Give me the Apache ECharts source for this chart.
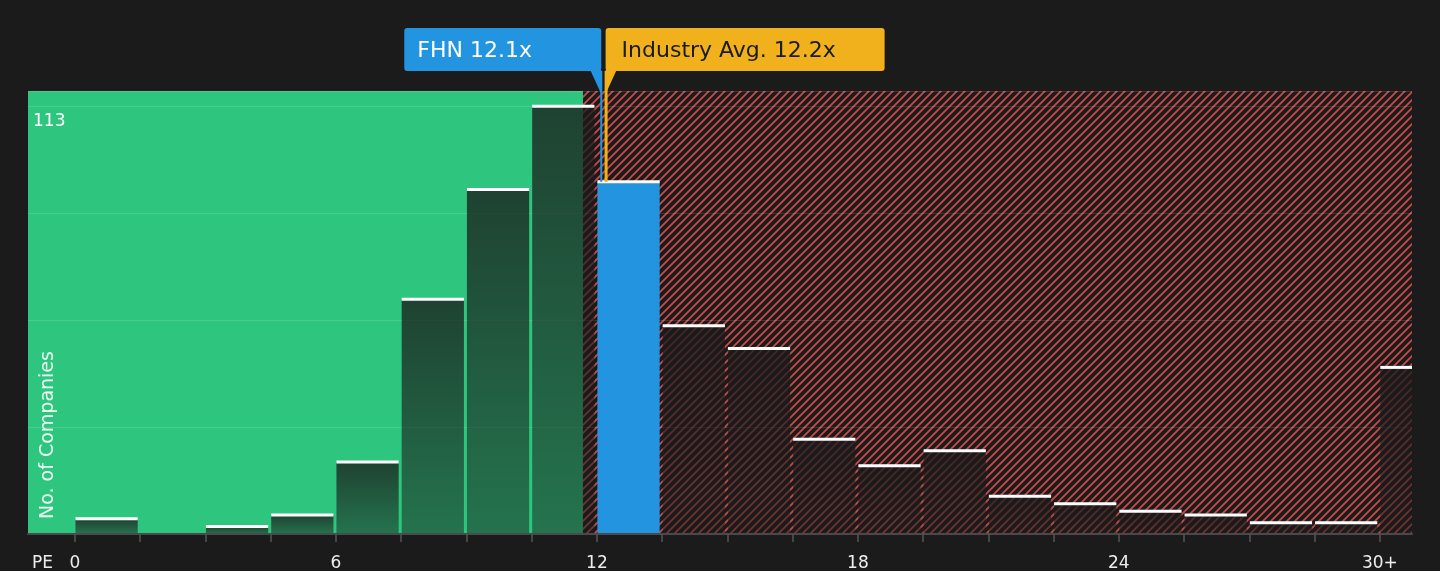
<!DOCTYPE html>
<html>
<head>
<meta charset="utf-8">
<script src="https://cdn.jsdelivr.net/npm/echarts@6/dist/echarts.min.js"></script>
<style>
  html, body { margin: 0; padding: 0; background: #1b1b1b; }
  #chart { width: 1440px; height: 571px; }
</style>
</head>
<body>
<div id="chart"></div>
<script>
// PE histogram data (bin starts, width 1.5, last bin is 30+)
const binStarts = [0, 1.5, 3, 4.5, 6, 7.5, 9, 10.5, 12, 13.5, 15, 16.5, 18, 19.5, 21, 22.5, 24, 25.5, 27, 28.5, 30];
const binCounts = [4, 0, 2, 5, 19, 62, 91, 113, 93, 55, 49, 25, 18, 22, 10, 8, 6, 5, 3, 3, 44];
const binWidth = 1.5;
const tickValues = [0, 1.5, 3, 4.5, 6, 7.5, 9, 10.5, 12, 13.5, 15, 16.5, 18, 19.5, 21, 22.5, 24, 25.5, 27, 28.5, 30];
const labelValues = [0, 6, 12, 18, 24, 30];

const fhnPE = 12.1;
const industryPE = 12.2;
const fairPE = 11.68;   // where the green (undervalued) zone ends
const maxCount = 113;

const xMin = -1.08, xMax = 30.74;
const yMax = 117;

// red hatch tile
function makeHatch() {
    const c = document.createElement('canvas');
    c.width = 8; c.height = 8;
    const g = c.getContext('2d');
    g.fillStyle = '#1b1b1b';
    g.fillRect(0, 0, 8, 8);
    g.strokeStyle = '#c94a4a';
    g.lineWidth = 1.8;
    g.beginPath();
    g.moveTo(-1, 9); g.lineTo(9, -1);
    g.moveTo(-3, 3); g.lineTo(3, -3);
    g.moveTo(5, 11); g.lineTo(11, 5);
    g.stroke();
    return c;
}
const hatch = makeHatch();

const zones = [[xMin, fairPE, 0], [fairPE, xMax, 1]];
const bars = binStarts.map((s, i) => [s, Math.min(s + binWidth, xMax), binCounts[i]]);
const fhnBin = binStarts.findIndex(s => fhnPE >= s && fhnPE < s + binWidth);

const chart = echarts.init(document.getElementById('chart'));
const FONT = 'DejaVu Sans';

function renderZone(params, api) {
    const p0 = api.coord([api.value(0), yMax]);
    const p1 = api.coord([api.value(1), 0]);
    return {
        type: 'rect',
        shape: { x: p0[0], y: p0[1], width: p1[0] - p0[0], height: p1[1] - p0[1] },
        style: { fill: api.value(2) === 0 ? '#2ec67e' : { image: hatch, repeat: 'repeat' } }
    };
}

function renderBar(params, api) {
    const lo = api.value(0), hi = api.value(1), n = api.value(2);
    if (!n) return null;
    const cs = params.coordSys;
    const top = api.coord([lo, n]);
    const base = api.coord([hi, 0]);
    const x0 = top[0] + 0.5;
    const x1 = hi >= xMax ? cs.x + cs.width : base[0] - 2.5;
    const isFhn = params.dataIndex === fhnBin;
    const fill = isFhn ? '#2394df' : {
        type: 'linear', x: 0, y: 0, x2: 0, y2: 1,
        colorStops: [
            { offset: 0, color: 'rgba(26,26,26,0.77)' },
            { offset: 1, color: 'rgba(26,26,26,0.48)' }
        ]
    };
    return {
        type: 'group',
        children: [
            { type: 'rect', shape: { x: x0, y: top[1], width: x1 - x0, height: base[1] - top[1] }, style: { fill: fill } },
            { type: 'rect', shape: { x: x0, y: top[1] - 1.5, width: x1 - x0, height: 3 }, style: { fill: '#ffffff' } }
        ]
    };
}

chart.setOption({
    backgroundColor: '#1b1b1b',
    animation: false,
    grid: { left: 28, right: 28, top: 91, bottom: 37, outerBoundsMode: 'none', containLabel: false },
    xAxis: {
        type: 'value',
        min: xMin,
        max: xMax,
        z: 3,
        splitLine: { show: false },
        axisLine: { lineStyle: { color: '#4a4a4a', width: 2 } },
        axisTick: { customValues: tickValues, length: 8, lineStyle: { color: '#555', width: 1.5 } },
        axisLabel: {
            customValues: labelValues,
            color: '#eeeeee',
            fontFamily: FONT,
            fontSize: 17,
            margin: 21,
            formatter: v => (v === 30 ? '30+' : String(v))
        }
    },
    yAxis: {
        type: 'value',
        min: 0,
        max: yMax,
        interval: maxCount / 4,
        z: 1,
        axisLine: { show: false },
        axisTick: { show: false },
        splitLine: { lineStyle: { color: 'rgba(255,255,255,0.13)', width: 1 } },
        axisLabel: {
            inside: true,
            margin: 5,
            verticalAlign: 'top',
            padding: [7, 0, 0, 0],
            color: '#ffffff',
            fontFamily: FONT,
            fontSize: 17,
            formatter: v => (Math.abs(v - maxCount) < 1e-6 ? String(maxCount) : '')
        }
    },
    series: [
        { type: 'custom', z: 0, silent: true, renderItem: renderZone, data: zones, encode: { x: [0, 1], y: 2 }, clip: true },
        { type: 'custom', z: 2, renderItem: renderBar, data: bars, encode: { x: [0, 1], y: 2 } }
    ]
});

// annotations placed from axis scales
const fhnPt = chart.convertToPixel({ gridIndex: 0 }, [fhnPE, binCounts[fhnBin]]);
const indPt = chart.convertToPixel({ gridIndex: 0 }, [industryPE, binCounts[fhnBin]]);
const plotTop = chart.convertToPixel({ gridIndex: 0 }, [0, yMax])[1];
const plotBottom = chart.convertToPixel({ gridIndex: 0 }, [0, 0])[1];
const boxTop = 28, boxH = 43;

chart.setOption({
    graphic: [
        // FHN callout
        { type: 'line', shape: { x1: fhnPt[0], y1: boxTop + boxH, x2: fhnPt[0], y2: fhnPt[1] }, style: { stroke: '#2394df', lineWidth: 2 }, z: 10 },
        { type: 'rect', shape: { x: fhnPt[0] - 197, y: boxTop, width: 197, height: boxH, r: 3 }, style: { fill: '#2394df' }, z: 10 },
        { type: 'polygon', shape: { points: [[fhnPt[0] - 11, boxTop + boxH - 1], [fhnPt[0], boxTop + boxH - 1], [fhnPt[0], plotTop + 3]] }, style: { fill: '#2394df' }, z: 10 },
        { type: 'text', x: fhnPt[0] - 184, y: boxTop + boxH / 2 + 2, style: { text: 'FHN ' + fhnPE.toFixed(1) + 'x', fill: '#ffffff', font: '22px "DejaVu Sans"', textVerticalAlign: 'middle' }, z: 11 },
        // Industry callout
        { type: 'line', shape: { x1: indPt[0] + 0.5, y1: boxTop + boxH, x2: indPt[0] + 0.5, y2: indPt[1] }, style: { stroke: '#f0b11d', lineWidth: 3 }, z: 10 },
        { type: 'rect', shape: { x: indPt[0], y: boxTop, width: 279, height: boxH, r: 3 }, style: { fill: '#f0b11d' }, z: 10 },
        { type: 'polygon', shape: { points: [[indPt[0], boxTop + boxH - 1], [indPt[0] + 11, boxTop + boxH - 1], [indPt[0], plotTop + 3]] }, style: { fill: '#f0b11d' }, z: 10 },
        { type: 'text', x: indPt[0] + 16, y: boxTop + boxH / 2 + 2, style: { text: 'Industry Avg. ' + industryPE.toFixed(1) + 'x', fill: '#1b1b1b', font: '22px "DejaVu Sans"', textVerticalAlign: 'middle' }, z: 11 },
        // axis names
        { type: 'text', x: 48, y: plotBottom - 15, rotation: Math.PI / 2, style: { text: 'No. of Companies', fill: 'rgba(255,255,255,0.9)', font: '19px "DejaVu Sans"', textAlign: 'left', textVerticalAlign: 'middle' }, z: 11 },
        { type: 'text', x: 32, y: 564, style: { text: 'PE', fill: '#eeeeee', font: '17px "DejaVu Sans"', textVerticalAlign: 'middle' }, z: 11 }
    ]
});
</script>
</body>
</html>
